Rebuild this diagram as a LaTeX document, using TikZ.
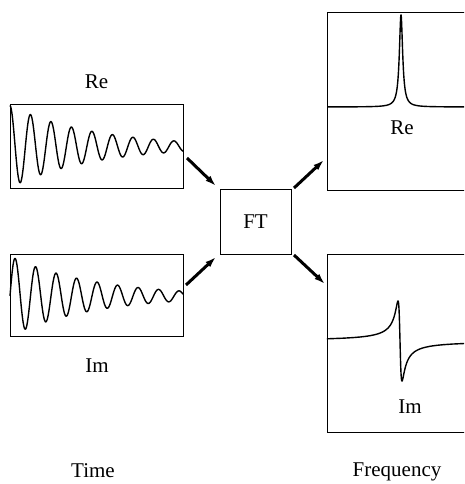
\documentclass[tikz,border=0pt]{standalone}
\usepackage{fontspec}
\setmainfont{Liberation Serif}
\newfontfamily\figfont{Liberation Serif}
\usepackage{tikz}
\usetikzlibrary{arrows.meta}

\begin{document}
\begin{tikzpicture}[
  x=1pt, y=-1pt,
  font=\figfont\fontsize{21}{25}\selectfont,
  plotbox/.style={draw, line width=1pt, inner sep=0pt, outer sep=0pt},
  lbl/.style={anchor=base, inner sep=0pt},
  sig/.style={line width=1.4pt, line join=round},
  arr/.style={-{Latex[length=11pt,width=7pt]}, line width=3pt}
]
\useasboundingbox (0,0) rectangle (464,484);
\clip (0,0) rectangle (464,484);

\node[plotbox, minimum width=173pt, minimum height=83pt] (tre) at (96.5,146.5) {};
\node[plotbox, minimum width=173pt, minimum height=82pt] (tim) at (96.5,295) {};
\node[plotbox, minimum width=71pt, minimum height=65pt] (ft) at (255.5,221.5) {FT};
\node[plotbox, minimum width=139pt, minimum height=177pt] (fre) at (396.5,101.5) {};
\node[plotbox, minimum width=139pt, minimum height=178pt] (fim) at (396.5,343) {};

\node[lbl] (lre) at (96.5,89) {Re};
\node[lbl] (lim) at (97,372) {Im};
\node[lbl] (rre) at (402,135) {Re};
\node[lbl] (rim) at (410,413) {Im};
\node[lbl] (time) at (93,477) {Time};
\node[lbl] (freq) at (397,476) {Frequency};

\draw[sig] plot[domain=10:183, samples=300] (\x, {146.5-41*exp(-0.01212*(\x-10))*cos(17.561*(\x-10))});
\draw[sig] plot[domain=10:183, samples=300] (\x, {296-40*exp(-0.01212*(\x-10))*sin(17.561*(\x-10))});
\draw[sig] plot[domain=-88.45:88.24, samples=400, variable=\t] ({401+2*tan(\t)}, {107-92*cos(\t)*cos(\t)});
\draw[sig] plot[domain=-88.43:88.26, samples=400, variable=\t] ({400+2*tan(\t)}, {341+40*sin(2*\t)});

\draw[arr] ([shift={(4,11.5)}]tre.east) -- ([shift={(-4,-3)}]ft.north west);
\draw[arr] ([shift={(3,-10)}]tim.east) -- ([shift={(-4,3)}]ft.south west);
\draw[arr] ([shift={(3,-1)}]ft.north east) -- ([shift={(-3,-30)}]fre.south west);
\draw[arr] ([shift={(3,1)}]ft.south east) -- ([shift={(-2,30)}]fim.north west);
\end{tikzpicture}
\end{document}
